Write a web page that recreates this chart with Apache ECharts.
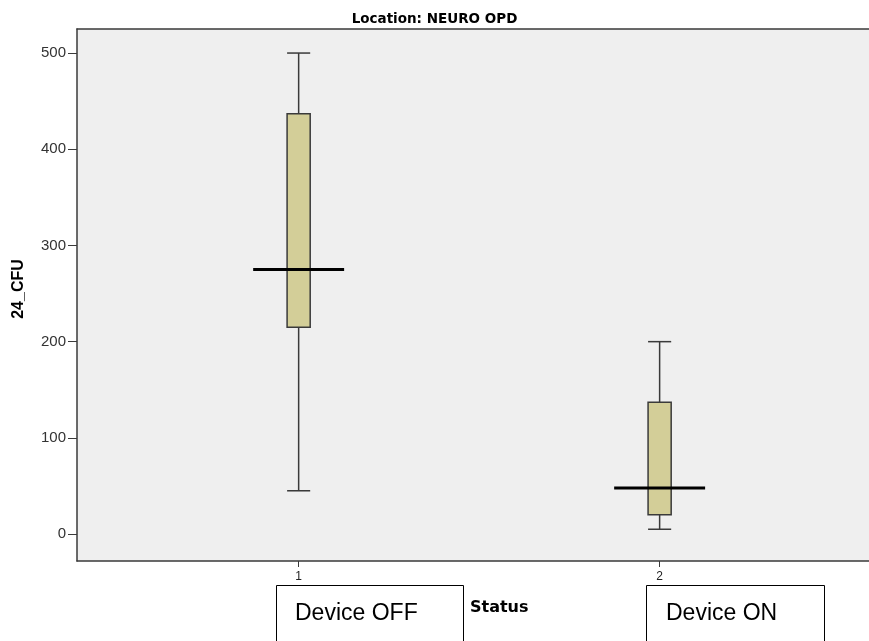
<!DOCTYPE html>
<html>
<head>
<meta charset="utf-8">
<title>Location: NEURO OPD</title>
<script src="https://cdn.jsdelivr.net/npm/echarts@6/dist/echarts.min.js"></script>
<style>
  html, body { margin: 0; padding: 0; background: #ffffff; }
  #chart { width: 869px; height: 641px; }
</style>
</head>
<body>
<div id="chart"></div>
<script>
// Groups on the x axis (Status codes) and their display labels
const groups = [1, 2];
const groupTickLabels = ['1', '2'];
const groupNotes = ['Device OFF', 'Device ON'];

// Five-number summaries of 24_CFU for each group
const whiskerLow  = [45, 5];
const quartile1   = [215, 20];
const medians     = [275, 48];
const quartile3   = [437, 137];
const whiskerHigh = [500, 200];

// Y axis ticks
const yTicks = [0, 100, 200, 300, 400, 500];

const boxRows = groups.map((g, i) => [g, whiskerLow[i], quartile1[i], medians[i], quartile3[i], whiskerHigh[i]]);

const BOX_HALF = 0.032;     // half box width in x units
const MEDIAN_HALF = 0.126;  // half median bar width in x units
const X_MIN = 0.386;
const X_MAX = 2.58;

function renderBox(params, api) {
  const x = api.value(0);
  const lo = api.value(1), q1 = api.value(2), md = api.value(3), q3 = api.value(4), hi = api.value(5);
  const pLo = api.coord([x, lo]);
  const pQ1 = api.coord([x, q1]);
  const pQ3 = api.coord([x, q3]);
  const pHi = api.coord([x, hi]);
  const boxL = api.coord([x - BOX_HALF, q3]);
  const boxR = api.coord([x + BOX_HALF, q1]);
  const medL = api.coord([x - MEDIAN_HALF, md]);
  const medR = api.coord([x + MEDIAN_HALF, md]);
  const stroke = '#3a3a3a';
  const wStyle = { stroke: stroke, lineWidth: 1.5 };
  return {
    type: 'group',
    children: [
      { type: 'line', shape: { x1: pHi[0], y1: pHi[1], x2: pQ3[0], y2: pQ3[1] }, style: wStyle },
      { type: 'line', shape: { x1: pQ1[0], y1: pQ1[1], x2: pLo[0], y2: pLo[1] }, style: wStyle },
      { type: 'line', shape: { x1: boxL[0], y1: pHi[1], x2: boxR[0], y2: pHi[1] }, style: wStyle },
      { type: 'line', shape: { x1: boxL[0], y1: pLo[1], x2: boxR[0], y2: pLo[1] }, style: wStyle },
      { type: 'rect', shape: { x: boxL[0], y: boxL[1], width: boxR[0] - boxL[0], height: boxR[1] - boxL[1] },
        style: { fill: '#d3ce98', stroke: stroke, lineWidth: 1.5 } },
      { type: 'line', shape: { x1: medL[0], y1: medL[1], x2: medR[0], y2: medR[1] },
        style: { stroke: '#000000', lineWidth: 3 } }
    ]
  };
}

const chart = echarts.init(document.getElementById('chart'), null, { renderer: 'canvas' });

const frameLine = { color: '#3a3a3a', width: 1.5 };

chart.setOption({
  animation: false,
  backgroundColor: '#ffffff',
  title: {
    text: 'Location: NEURO OPD',
    left: 'center',
    top: 7,
    textStyle: { fontFamily: 'DejaVu Sans, sans-serif', fontSize: 13.5, fontWeight: 'bold', color: '#000' }
  },
  grid: {
    left: 77, top: 29, right: 0, bottom: 80,
    show: true,
    backgroundColor: '#efefef',
    borderWidth: 0
  },
  xAxis: [
    {
      type: 'value',
      min: X_MIN,
      max: X_MAX,
      position: 'bottom',
      splitLine: { show: false },
      axisLine: { show: true, onZero: false, lineStyle: frameLine },
      axisTick: { show: true, customValues: groups, length: 6, lineStyle: { color: '#3a3a3a' } },
      axisLabel: {
        customValues: groups,
        margin: 10,
        fontFamily: 'Liberation Sans, Arial, sans-serif',
        fontSize: 12,
        color: '#222',
        formatter: v => groupTickLabels[groups.indexOf(v)] || ''
      }
    },
    {
      // top edge of the plot frame
      type: 'value',
      min: X_MIN,
      max: X_MAX,
      position: 'top',
      splitLine: { show: false },
      axisLine: { show: true, onZero: false, lineStyle: frameLine },
      axisTick: { show: false },
      axisLabel: { show: false }
    }
  ],
  yAxis: {
    type: 'value',
    min: -28,
    max: 525,
    name: '24_CFU',
    nameLocation: 'middle',
    nameGap: 50,
    nameTextStyle: {
      fontFamily: 'Liberation Sans, Arial, sans-serif', fontSize: 16, fontWeight: 'bold', color: '#000',
      padding: [0, 0, 0, 12]
    },
    splitLine: { show: false },
    axisLine: { show: true, onZero: false, lineStyle: frameLine },
    axisTick: { show: true, customValues: yTicks, length: 9, lineStyle: { color: '#3a3a3a' } },
    axisLabel: {
      customValues: yTicks,
      margin: 11,
      fontFamily: 'Liberation Sans, Arial, sans-serif',
      fontSize: 15,
      color: '#333'
    }
  },
  series: [{
    type: 'custom',
    renderItem: renderBox,
    encode: { x: 0, y: [1, 2, 3, 4, 5] },
    data: boxRows,
    z: 5
  }],
  graphic: [
    {
      type: 'text', left: 470, top: 600, z: 10,
      style: { text: 'Status', fontFamily: 'DejaVu Sans, sans-serif', fontSize: 16, fontWeight: 'bold', fill: '#000' }
    },
    {
      type: 'rect', left: 276, top: 585, z: 20,
      shape: { width: 187, height: 70 },
      style: { fill: '#ffffff', stroke: '#000000', lineWidth: 1 }
    },
    {
      type: 'text', left: 295, top: 602, z: 21,
      style: { text: groupNotes[0], fontFamily: 'Liberation Sans, Arial, sans-serif', fontSize: 23, fill: '#000' }
    },
    {
      type: 'rect', left: 646, top: 585, z: 20,
      shape: { width: 178, height: 70 },
      style: { fill: '#ffffff', stroke: '#000000', lineWidth: 1 }
    },
    {
      type: 'text', left: 666, top: 602, z: 21,
      style: { text: groupNotes[1], fontFamily: 'Liberation Sans, Arial, sans-serif', fontSize: 23, fill: '#000' }
    }
  ]
});
</script>
</body>
</html>
